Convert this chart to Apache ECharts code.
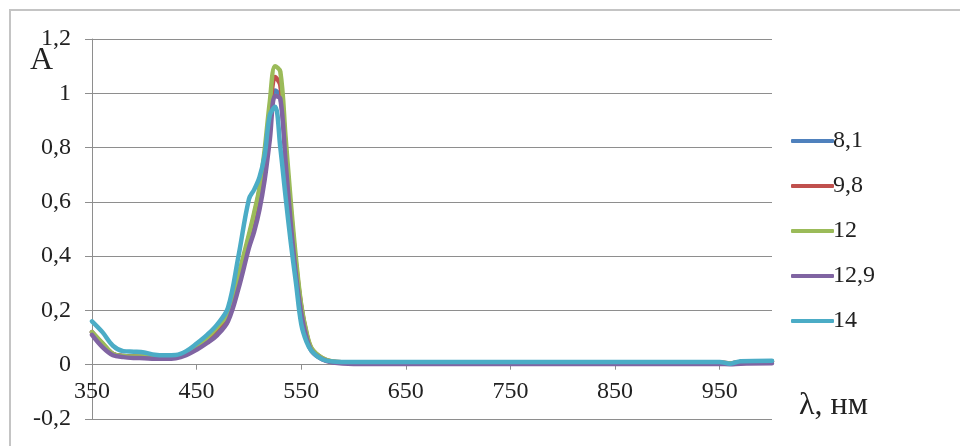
<!DOCTYPE html>
<html>
<head>
<meta charset="utf-8">
<script src="https://cdn.jsdelivr.net/npm/echarts@6/dist/echarts.min.js"></script>
<style>
  html, body { margin: 0; padding: 0; background: #fff; }
  #chart { width: 960px; height: 446px; }
</style>
</head>
<body>
<div id="chart"></div>
<script>
// длины волн, нм
var wl = [350, 360, 370, 380, 390, 400, 410, 420, 430, 440, 450, 460, 470, 480, 490,
          500, 505, 510, 515, 520, 525, 530, 535, 540, 545, 550, 555, 560, 570, 580,
          600, 650, 700, 750, 800, 850, 900, 950, 960, 970, 1000];

// оптическая плотность при разных pH
var s8_1 = [0.12, 0.075, 0.04, 0.032, 0.03, 0.029, 0.027, 0.026, 0.029, 0.042, 0.065, 0.095, 0.13, 0.18, 0.31,
            0.46, 0.54, 0.63, 0.75, 0.90, 1.01, 0.99, 0.78, 0.55, 0.36, 0.21, 0.11, 0.055, 0.022, 0.01,
            0.008, 0.008, 0.008, 0.008, 0.008, 0.008, 0.008, 0.008, 0.005, 0.01, 0.012];
var s9_8 = [0.12, 0.078, 0.04, 0.032, 0.03, 0.029, 0.027, 0.026, 0.029, 0.043, 0.067, 0.097, 0.135, 0.185, 0.32,
            0.47, 0.55, 0.64, 0.77, 0.93, 1.06, 1.03, 0.80, 0.57, 0.37, 0.215, 0.115, 0.058, 0.024, 0.011,
            0.008, 0.008, 0.008, 0.008, 0.008, 0.008, 0.008, 0.008, 0.005, 0.01, 0.012];
var s12 = [0.12, 0.08, 0.04, 0.032, 0.03, 0.03, 0.028, 0.027, 0.03, 0.045, 0.07, 0.10, 0.14, 0.19, 0.33,
           0.48, 0.56, 0.65, 0.79, 0.97, 1.10, 1.08, 0.84, 0.60, 0.39, 0.22, 0.12, 0.06, 0.025, 0.012,
           0.008, 0.008, 0.008, 0.008, 0.008, 0.008, 0.008, 0.008, 0.005, 0.01, 0.012];
var s12_9 = [0.11, 0.065, 0.035, 0.028, 0.025, 0.024, 0.022, 0.022, 0.024, 0.035, 0.055, 0.08, 0.11, 0.16, 0.28,
             0.43, 0.49, 0.57, 0.68, 0.83, 0.99, 0.98, 0.75, 0.52, 0.33, 0.19, 0.10, 0.05, 0.02, 0.008,
             0.003, 0.003, 0.003, 0.003, 0.003, 0.003, 0.003, 0.003, 0.002, 0.004, 0.005];
var s14 = [0.16, 0.12, 0.07, 0.05, 0.048, 0.045, 0.037, 0.035, 0.036, 0.05, 0.078, 0.11, 0.15, 0.21, 0.40,
           0.61, 0.645, 0.69, 0.77, 0.92, 0.95, 0.80, 0.62, 0.45, 0.30, 0.15, 0.085, 0.05, 0.02, 0.012,
           0.01, 0.01, 0.01, 0.01, 0.01, 0.01, 0.01, 0.01, 0.004, 0.013, 0.015];

var names = ['8,1', '9,8', '12', '12,9', '14'];
var values = [s8_1, s9_8, s12, s12_9, s14];
var colors = ['#4f81bd', '#c0504d', '#9bbb59', '#8064a2', '#4bacc6'];

var xLabels = [350, 450, 550, 650, 750, 850, 950];

var font = '"Liberation Serif", "Times New Roman", serif';

function comma(v) {
    return String(Math.round(v * 10) / 10).replace('.', ',');
}

var series = names.map(function(n, i) {
    return {
        name: n,
        type: 'line',
        smooth: 0.35,
        symbol: 'none',
        color: colors[i],
        lineStyle: { width: 4.5, color: colors[i], cap: 'round' },
        data: wl.map(function(x, k) { return [x, values[i][k]]; })
    };
});

var chart = echarts.init(document.getElementById('chart'));
chart.setOption({
    animation: false,
    backgroundColor: '#fff',
    grid: { left: 92, right: 188, top: 39, bottom: 27, containLabel: false, outerBoundsMode: 'none' },
    xAxis: {
        type: 'value',
        min: 350, max: 1000, interval: 50,
        // ось проходит через 0, подписи под ней
        offset: -54.3,
        axisLine: { onZero: false, lineStyle: { color: '#8e8e8e', width: 1 } },
        axisTick: { show: true, length: 5, customValues: xLabels, lineStyle: { color: '#8e8e8e' } },
        axisLabel: { customValues: xLabels, margin: 15, color: '#222', fontFamily: font, fontSize: 24 },
        splitLine: { show: false }
    },
    yAxis: {
        type: 'value',
        min: -0.2, max: 1.2, interval: 0.2,
        axisLine: { show: true, lineStyle: { color: '#8e8e8e', width: 1 } },
        axisTick: { show: true, length: 7, lineStyle: { color: '#8e8e8e' } },
        axisLabel: { margin: 21, color: '#222', fontFamily: font, fontSize: 24, formatter: comma },
        splitLine: { show: true, lineStyle: { color: '#8e8e8e', width: 1 } }
    },
    legend: {
        orient: 'vertical',
        left: 786, top: 124,
        itemWidth: 43, itemHeight: 4,
        itemGap: 21,
        icon: 'roundRect',
        textStyle: { color: '#222', fontFamily: font, fontSize: 24, padding: [0, 0, 0, -6] },
        data: names
    },
    graphic: [
        { type: 'rect', shape: { x: 10, y: 10, width: 1000, height: 500 },
          style: { fill: 'none', stroke: '#c4c4c4', lineWidth: 2 }, z: -1 },
        { type: 'text', left: 30, top: 45,
          style: { text: 'A', fill: '#222', font: '32px ' + font } },
        { type: 'text', left: 799, top: 390,
          style: { text: 'λ, нм', fill: '#222', font: '32px ' + font } }
    ],
    series: series
});
</script>
</body>
</html>
